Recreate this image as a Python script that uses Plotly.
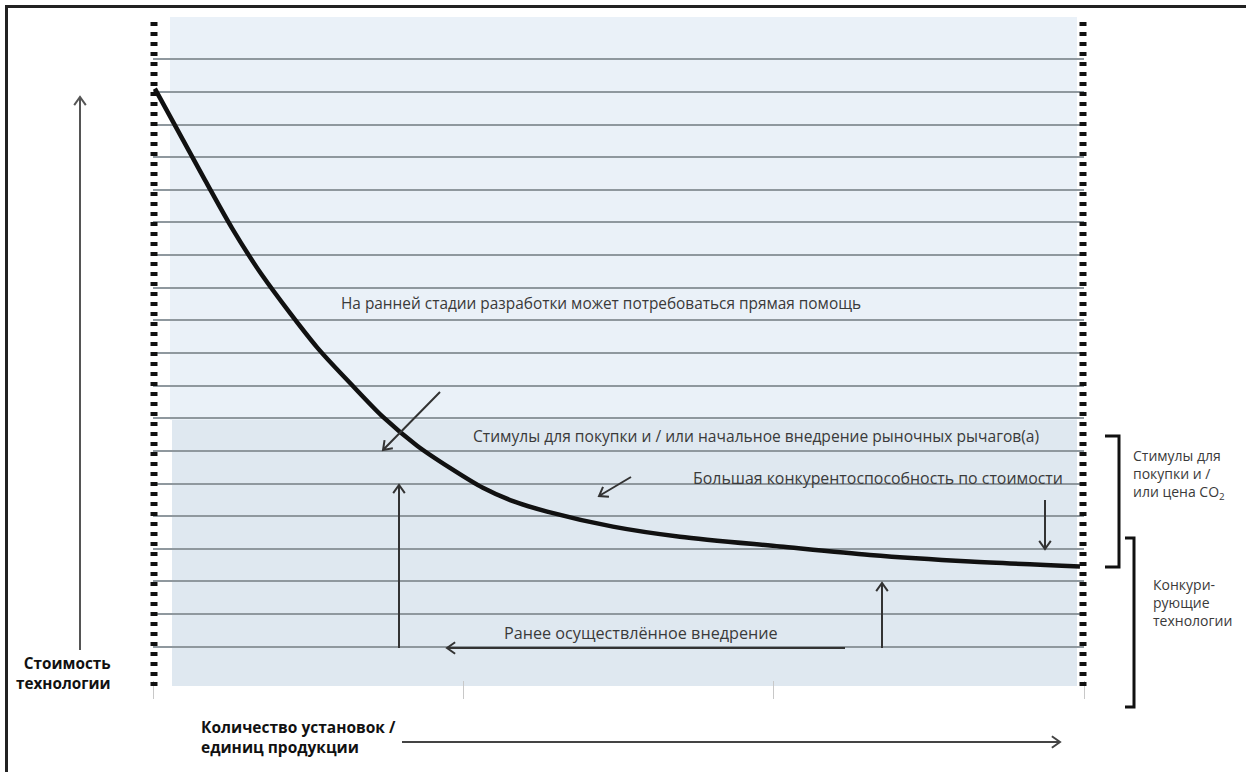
import math
import plotly.graph_objects as go

# cost curve (x: installations, y: cost, in grid units)
cost_x = [0.006, 0.168, 0.255, 0.354, 0.528, 0.635, 0.741, 0.851, 0.957, 1.063,
          1.160, 1.270, 1.482, 1.698, 2.020, 2.310, 2.633, 2.987]
cost_y = [18.10, 15.29, 13.82, 12.35, 10.18, 9.08, 8.04, 7.16, 6.48, 5.87,
          5.46, 5.14, 4.68, 4.37, 4.07, 3.81, 3.61, 3.46]

x_ticks = [0, 1, 2, 3]

# pixel box of the plot area
PL, PR, PT, PB = 153, 1084, 26, 680
W, H = 1246, 772


def px(x):
    return (x - PL) / (PR - PL)


def py(y):
    return (PB - y) / (PB - PT)


FONT = "Open Sans"
TXT = "#3a3a3a"

fig = go.Figure()
fig.add_trace(go.Scatter(
    x=cost_x, y=cost_y, mode="lines",
    line=dict(color="#111111", width=4.5, shape="spline", smoothing=0.8),
    cliponaxis=False, hoverinfo="skip", showlegend=False,
))

shapes = []

# light blue background, slightly darker in the lower part
shapes.append(dict(type="rect", xref="paper", yref="paper", layer="below",
                   x0=px(170), x1=px(1077), y0=py(420), y1=py(17),
                   fillcolor="#eaf1f8", line=dict(width=0)))
shapes.append(dict(type="rect", xref="paper", yref="paper", layer="below",
                   x0=px(172), x1=px(1077), y0=py(686), y1=py(420),
                   fillcolor="#dfe8f0", line=dict(width=0)))

# dashed side lines
for xx in (154, 1083):
    shapes.append(dict(type="line", xref="paper", yref="paper",
                       x0=px(xx), x1=px(xx), y0=py(22), y1=py(690),
                       line=dict(color="#111111", width=7, dash="4px,6px")))

# outer frame (open at right and bottom)
shapes.append(dict(type="path", xref="paper", yref="paper",
                   path=f"M {px(6.5)},{py(780)} L {px(6.5)},{py(6.5)} L {px(1260)},{py(6.5)}",
                   line=dict(color="#222222", width=3)))


def arrow(x0, y0, x1, y1, color="#333333", width=2, head=10):
    a = math.atan2(y1 - y0, x1 - x0)
    pts = []
    for s in (1, -1):
        b = a + math.pi + s * 0.62
        pts.append((x1 + head * math.cos(b), y1 + head * math.sin(b)))
    path = (f"M {px(x0)},{py(y0)} L {px(x1)},{py(y1)} "
            f"M {px(pts[0][0])},{py(pts[0][1])} L {px(x1)},{py(y1)} L {px(pts[1][0])},{py(pts[1][1])}")
    shapes.append(dict(type="path", xref="paper", yref="paper", path=path,
                       line=dict(color=color, width=width)))


arrow(80, 650, 80, 97, color="#555555")          # cost axis
arrow(402, 742, 1060, 742, color="#444444")      # installations axis
arrow(440, 392, 383, 450)
arrow(631, 477, 599, 496)
arrow(1045, 500, 1045, 549)
arrow(399, 648, 399, 485)
arrow(882, 648, 882, 583)
arrow(845, 648, 447, 648)

# brackets on the right
shapes.append(dict(type="path", xref="paper", yref="paper",
                   path=f"M {px(1105)},{py(436)} L {px(1119)},{py(436)} L {px(1119)},{py(567)} L {px(1105)},{py(567)}",
                   line=dict(color="#111111", width=3)))
shapes.append(dict(type="path", xref="paper", yref="paper",
                   path=f"M {px(1125)},{py(538)} L {px(1134)},{py(538)} L {px(1134)},{py(707)} L {px(1125)},{py(707)}",
                   line=dict(color="#111111", width=3)))

annotations = []


def label(x, y, text, size=15, bold=False, color=TXT, anchor="left"):
    annotations.append(dict(
        xref="paper", yref="paper", x=px(x), y=py(y), text=text,
        showarrow=False, xanchor=anchor, yanchor="middle", align=anchor,
        font=dict(family=FONT, size=size, color=color, weight="bold" if bold else "normal"),
    ))


label(339, 303, "На ранней стадии разработки может потребоваться прямая помощь", size=15.4)
label(471, 436, "Стимулы для покупки и / или начальное внедрение рыночных рычагов(a)", size=15.6)
label(691, 478, "Большая конкурентоспособность по стоимости", size=15.9)
label(502, 633, "Ранее осуществлённое внедрение", size=16.2)
label(1131, 475, "Стимулы для<br>покупки и /<br>или цена CO<sub>2</sub>", size=14)
label(1151, 602, "Конкури-<br>рующие<br>технологии", size=14)
label(113, 673, "Стоимость<br>технологии", size=15.3, bold=True, color="#111111", anchor="right")
label(199, 737, "Количество установок /<br>единиц продукции", size=15.5, bold=True, color="#111111")

fig.update_layout(
    width=W, height=H,
    margin=dict(l=PL, r=W - PR, t=PT, b=H - PB, pad=0),
    paper_bgcolor="white", plot_bgcolor="white",
    shapes=shapes, annotations=annotations,
    showlegend=False,
    xaxis=dict(range=[0, 3], tickvals=x_ticks, showticklabels=False,
               ticks="outside", ticklen=18, tickcolor="#c8c8c8", tickwidth=1,
               showgrid=False, zeroline=False, showline=False, fixedrange=True),
    yaxis=dict(range=[-0.02, 20.02], dtick=1, showticklabels=False, ticks="",
               showgrid=True, gridcolor="#8f989e", gridwidth=2,
               zeroline=False, showline=False, fixedrange=True),
)

# drop the browser's default page margin so the figure sits at the window corner
fig.write_html("out.html", config={"displayModeBar": False},
               post_script="document.body.style.margin='0';")
